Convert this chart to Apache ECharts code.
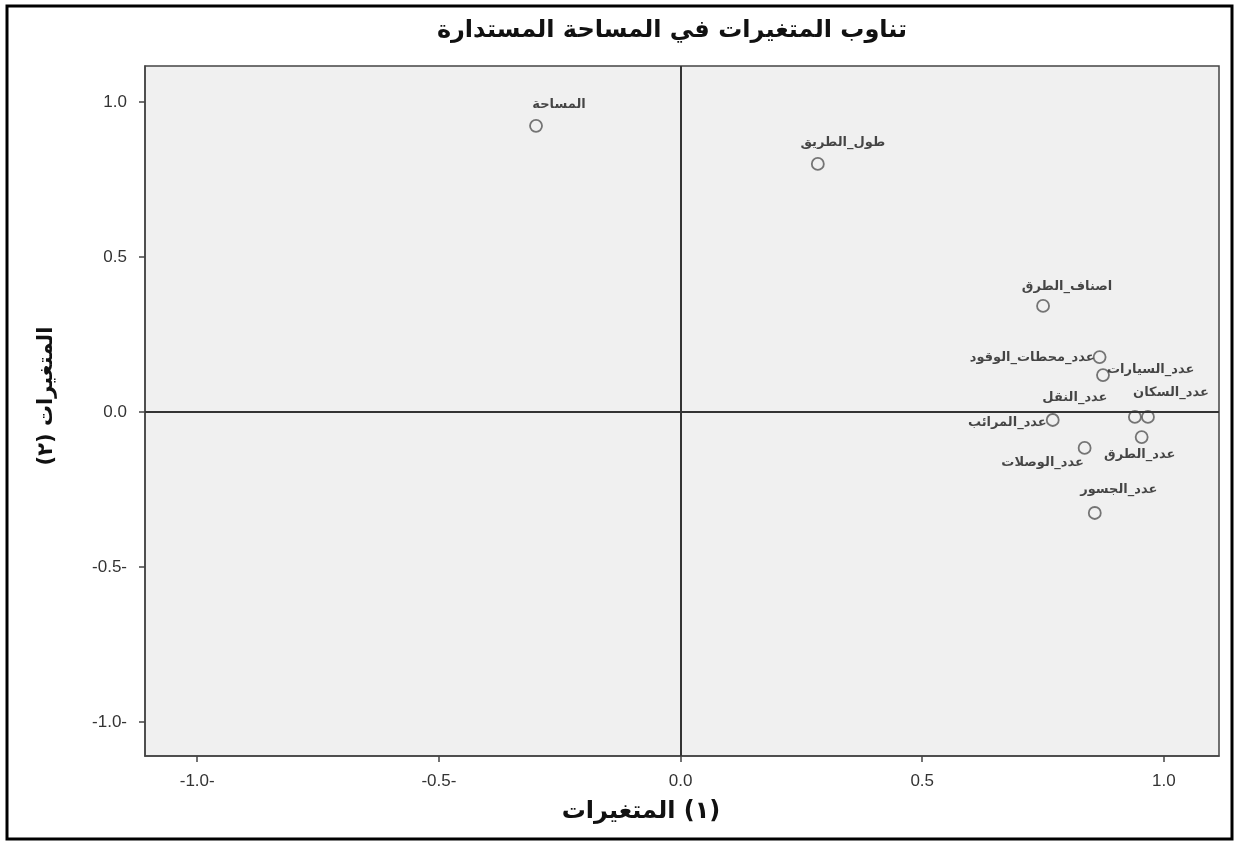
<!DOCTYPE html>
<html>
<head>
<meta charset="utf-8">
<script src="https://cdn.jsdelivr.net/npm/echarts@6/dist/echarts.min.js"></script>
<style>
  html, body { margin: 0; padding: 0; background: #ffffff; }
  #chart { width: 1236px; height: 842px; }
</style>
</head>
<body>
<div id="chart"></div>
<script>
// Variable names and their loadings on the two components
const names = [
  'المساحة',
  'طول_الطريق',
  'اصناف_الطرق',
  'عدد_محطات_الوقود',
  'عدد_السيارات',
  'عدد_السكان',
  'عدد_النقل',
  'عدد_المرائب',
  'عدد_الوصلات',
  'عدد_الطرق',
  'عدد_الجسور'
];
const xValues = [-0.299, 0.284, 0.750, 0.867, 0.874, 0.967, 0.940, 0.770, 0.836, 0.954, 0.857];
const yValues = [0.923, 0.800, 0.342, 0.177, 0.119, -0.016, -0.016, -0.026, -0.116, -0.081, -0.326];
const tickValues = [-1.0, -0.5, 0.0, 0.5, 1.0];

const titleText = 'تناوب المتغيرات في المساحة المستدارة';
const xNameWord = 'المتغيرات';
const xNameNum = '(١)';
const yName = 'المتغيرات (٢)';

// Where each point's label sits relative to its marker: [dx, dy, align]
const labelPlacement = [
  [23, -21, 'center'],
  [25, -21, 'center'],
  [24, -19, 'center'],
  [-5, 1, 'right'],
  [4, -5, 'left'],
  [23, -24, 'center'],
  [-60, -19, 'center'],
  [-6, 3, 'right'],
  [-42, 15, 'center'],
  [-2, 18, 'center'],
  [24, -23, 'center']
];

const arabicFont = "'DejaVu Sans', sans-serif";
const numFont = "'Liberation Sans', Arial, sans-serif";

const points = names.map((n, i) => ({
  name: n,
  value: [xValues[i], yValues[i]],
  label: { align: labelPlacement[i][2] }
}));

function tickText(v) {
  if (v < 0) return '-' + Math.abs(v).toFixed(1) + '-';
  return v.toFixed(1);
}

const chart = echarts.init(document.getElementById('chart'), null, { renderer: 'canvas' });

const axisCommon = {
  type: 'value',
  splitLine: { show: false },
  axisLine: { show: true, onZero: false, lineStyle: { color: '#444', width: 1.5 } },
  axisTick: { show: true, customValues: tickValues, length: 6, lineStyle: { color: '#444', width: 1.5 } }
};

chart.setOption({
  backgroundColor: '#ffffff',
  animation: false,
  graphic: [
    {
      type: 'rect',
      shape: { x: 7, y: 6, width: 1225, height: 833 },
      style: { fill: 'none', stroke: '#000', lineWidth: 3 },
      silent: true,
      z: 100
    },
    {
      type: 'text',
      x: 672, y: 31,
      style: {
        text: titleText,
        fontFamily: arabicFont, fontSize: 24, fontWeight: 'bold', fill: '#111',
        align: 'center', verticalAlign: 'middle'
      },
      silent: true
    },
    {
      type: 'text',
      x: 641, y: 812,
      style: {
        text: '{w|' + xNameWord + '} {n|' + xNameNum + '}',
        align: 'center', verticalAlign: 'middle',
        rich: {
          w: { fontFamily: arabicFont, fontSize: 24, fontWeight: 'bold', fill: '#111' },
          n: { fontFamily: arabicFont, fontSize: 24, fontWeight: 'bold', fill: '#111' }
        },
        fontFamily: arabicFont, fontSize: 24, fontWeight: 'bold', fill: '#111'
      },
      silent: true
    }
  ],
  grid: {
    left: 145, right: 17, top: 66, bottom: 86,
    show: true,
    backgroundColor: '#f0f0f0',
    borderColor: '#444',
    borderWidth: 1.5
  },
  xAxis: Object.assign({}, axisCommon, {
    min: -1.108,
    max: 1.114,
    axisLabel: {
      customValues: tickValues,
      formatter: tickText,
      margin: 17,
      fontFamily: numFont,
      fontSize: 17,
      color: '#333'
    }
  }),
  yAxis: Object.assign({}, axisCommon, {
    min: -1.11,
    max: 1.116,
    name: yName,
    nameLocation: 'middle',
    nameGap: 88,
    nameTextStyle: {
      fontFamily: arabicFont, fontSize: 21, fontWeight: 'bold', color: '#111',
      padding: [0, 0, 0, 30]
    },
    axisLabel: {
      customValues: tickValues,
      formatter: tickText,
      margin: 18,
      fontFamily: numFont,
      fontSize: 17,
      color: '#333'
    }
  }),
  series: [{
    type: 'scatter',
    data: points,
    symbol: 'circle',
    symbolSize: 12,
    itemStyle: { color: 'transparent', borderColor: '#555', borderWidth: 1.8 },
    label: {
      show: true,
      position: 'inside',
      formatter: '{b}',
      fontFamily: arabicFont,
      fontSize: 13,
      fontWeight: 'bold',
      color: '#1a1a1a'
    },
    labelLayout: function (params) {
      const p = labelPlacement[params.dataIndex];
      return { dx: p[0], dy: p[1], hideOverlap: false };
    },
    markLine: {
      silent: true,
      symbol: 'none',
      label: { show: false },
      lineStyle: { color: '#333', width: 2, type: 'solid' },
      data: [{ xAxis: 0 }, { yAxis: 0 }]
    },
    z: 3
  }]
});
</script>
</body>
</html>
